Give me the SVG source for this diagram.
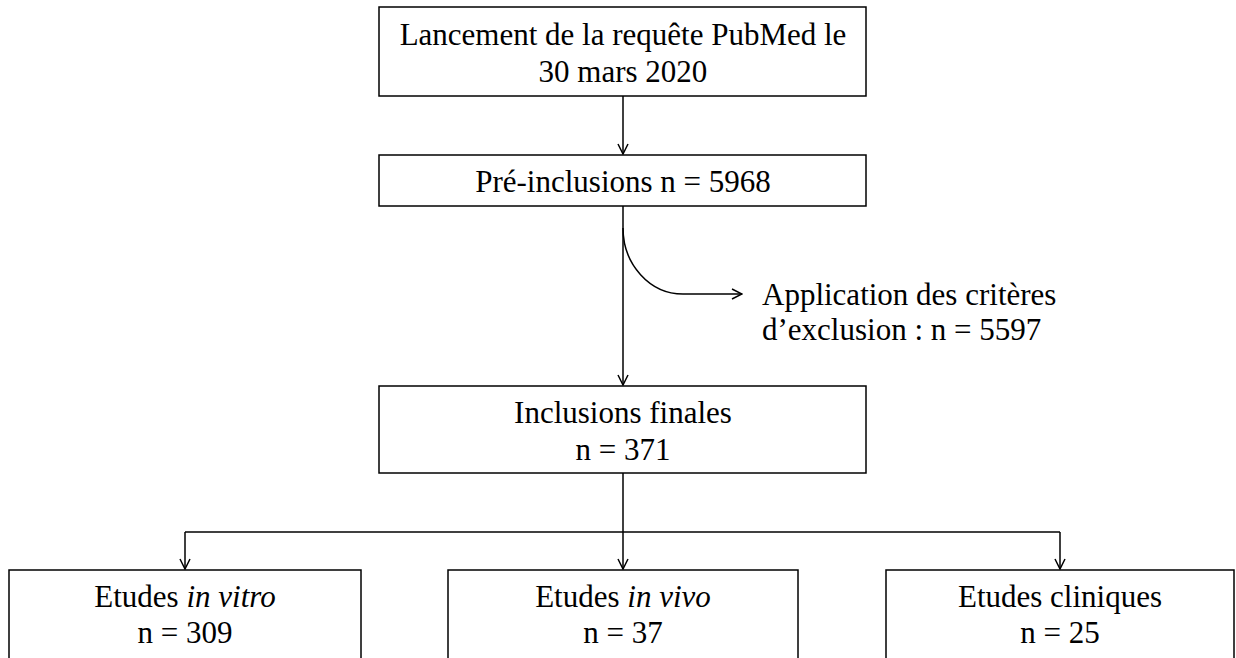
<svg xmlns="http://www.w3.org/2000/svg" width="1236" height="658" viewBox="0 0 1236 658">
<style>
.box{fill:#fff;stroke:#000;stroke-width:1.5}
.t{font-family:"Liberation Serif","Times New Roman",serif;font-size:31px;fill:#000}
.c{text-anchor:middle}
.ln{fill:none;stroke:#000;stroke-width:1.5}
</style>
<defs>
<marker id="ah" viewBox="0 0 12 12" refX="11" refY="6" markerWidth="12" markerHeight="12" markerUnits="userSpaceOnUse" orient="auto">
<path d="M1,1 L11,6 L1,11" fill="none" stroke="#000" stroke-width="1.5"/>
</marker>
</defs>
<rect width="1236" height="658" fill="#fff"/>
<g id="connectors">
<line class="ln" x1="623" y1="96" x2="623" y2="154" marker-end="url(#ah)"/>
<line class="ln" x1="623" y1="206" x2="623" y2="385" marker-end="url(#ah)"/>
<path class="ln" d="M623,228 A60,66 0 0 0 683,294 L742,294" marker-end="url(#ah)"/>
<line class="ln" x1="623" y1="473" x2="623" y2="532"/>
<path class="ln" d="M185,532 L1060,532"/>
<line class="ln" x1="185" y1="532" x2="185" y2="569" marker-end="url(#ah)"/>
<line class="ln" x1="623" y1="532" x2="623" y2="569" marker-end="url(#ah)"/>
<line class="ln" x1="1060" y1="532" x2="1060" y2="569" marker-end="url(#ah)"/>
</g>
<g id="n1">
<rect class="box" x="379" y="7" width="487" height="89"/>
<text class="t c" x="623" y="45">Lancement de la requête PubMed le</text>
<text class="t c" x="623" y="82">30 mars 2020</text>
</g>
<g id="n2">
<rect class="box" x="379" y="155" width="487" height="51"/>
<text class="t c" x="623" y="192">Pré-inclusions n = 5968</text>
</g>
<g id="n3">
<text class="t" x="762" y="305">Application des critères</text>
<text class="t" x="762" y="340">d’exclusion : n = 5597</text>
</g>
<g id="n4">
<rect class="box" x="379" y="386" width="487" height="87"/>
<text class="t c" x="623" y="423">Inclusions finales</text>
<text class="t c" x="623" y="460">n = 371</text>
</g>
<g id="n5">
<rect class="box" x="9" y="570" width="352" height="92"/>
<text class="t c" x="185" y="607">Etudes <tspan font-style="italic">in vitro</tspan></text>
<text class="t c" x="185" y="643">n = 309</text>
</g>
<g id="n6">
<rect class="box" x="448" y="570" width="350" height="92"/>
<text class="t c" x="623" y="607">Etudes <tspan font-style="italic">in vivo</tspan></text>
<text class="t c" x="623" y="643">n = 37</text>
</g>
<g id="n7">
<rect class="box" x="886" y="570" width="348" height="92"/>
<text class="t c" x="1060" y="607">Etudes cliniques</text>
<text class="t c" x="1060" y="643">n = 25</text>
</g>
</svg>
